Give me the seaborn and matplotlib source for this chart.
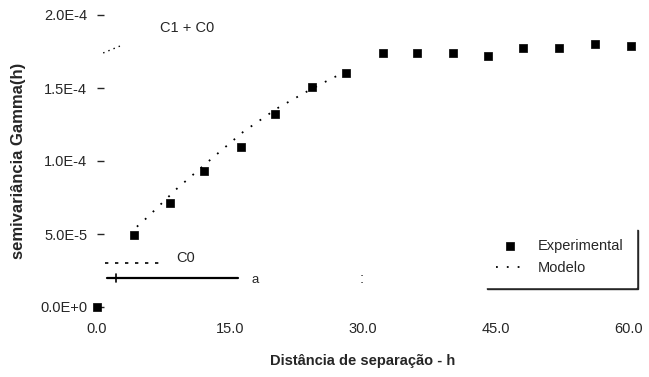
import matplotlib
matplotlib.use("Agg")
import matplotlib.pyplot as plt
import seaborn as sns
import pandas as pd

# Experimental semivariogram
exp_h = [0.0, 4.2, 8.2, 12.1, 16.2, 20.1, 24.2, 28.1, 32.2, 36.1, 40.2, 44.1, 48.1, 52.1, 56.2, 60.2]
exp_gamma = [0.0, 4.93e-5, 7.12e-5, 9.32e-5, 1.096e-4, 1.322e-4, 1.507e-4, 1.603e-4,
             1.740e-4, 1.740e-4, 1.740e-4, 1.719e-4, 1.774e-4, 1.774e-4, 1.801e-4, 1.788e-4]

# Model curve
model_h = [4.5, 5.6, 9.0, 13.0, 16.5, 20.3, 23.5, 26.6, 28.5]
model_gamma = [5.5e-5, 6.1e-5, 8.1e-5, 1.02e-4, 1.20e-4, 1.36e-4, 1.47e-4, 1.57e-4, 1.62e-4]

x_ticks = [0, 15, 30, 45, 60]
x_tick_labels = ["0.0", "15.0", "30.0", "45.0", "60.0"]
y_ticks = [0.0, 5e-5, 1e-4, 1.5e-4, 2e-4]
y_tick_labels = ["0.0E+0", "5.0E-5", "1.0E-4", "1.5E-4", "2.0E-4"]

nugget = 3.01e-5
sill_start = 1.74e-4
sill_end = 1.795e-4
range_line = 1.99e-5

sns.set_style("white")
plt.rcParams['font.family'] = ['Liberation Sans', 'DejaVu Sans']

FS = 10.5

fig = plt.figure(figsize=(6.49, 3.77), dpi=100)
ax = fig.add_axes([97/649, 1-307/377, 532/649, 292/377])

df_exp = pd.DataFrame({"h": exp_h, "gamma": exp_gamma})
df_mod = pd.DataFrame({"h": model_h, "gamma": model_gamma})

sns.scatterplot(data=df_exp, x="h", y="gamma", ax=ax, marker="s", color="black",
                s=30, edgecolor="black", linewidth=0.5, label="Experimental",
                clip_on=False, zorder=3)
sns.lineplot(data=df_mod, x="h", y="gamma", ax=ax, color="black", lw=1.3,
             linestyle=(0, (1, 5)), label="Modelo", zorder=2)

# Annotations: nugget, sill, range
ax.plot([0.9, 7.4], [nugget, nugget], color="black", lw=1.2, linestyle=(0, (2, 4)))
ax.text(8.9, 3.36e-5, "C0", fontsize=FS, va="center", ha="left")
ax.plot([0.7, 2.9], [sill_start, sill_end], color="black", lw=1.0, linestyle=(0, (1, 3)))
ax.text(7.1, 1.911e-4, "C1 + C0", fontsize=FS, va="center", ha="left")
ax.plot([1.1, 15.9], [range_line, range_line], color="black", lw=1.6)
ax.plot([2.1, 2.1], [range_line - 0.25e-5, range_line + 0.25e-5], color="black", lw=1.2)
ax.text(17.4, 1.85e-5, "a", fontsize=FS - 1, va="center", ha="left")
ax.text(29.6, 1.95e-5, ":", fontsize=FS, va="center", ha="left")

ax.set_xlim(0, 60)
ax.set_ylim(0, 2e-4)
ax.set_xticks(x_ticks)
ax.set_xticklabels(x_tick_labels, fontsize=FS)
ax.set_yticks(y_ticks)
ax.set_yticklabels(y_tick_labels, fontsize=FS)
ax.tick_params(axis="x", length=0, pad=11)
ax.tick_params(axis="y", direction="in", length=5, width=1, pad=7, left=True)
for s in ax.spines.values():
    s.set_visible(False)

ax.set_xlabel("Distância de separação - h", fontsize=FS, fontweight="bold", labelpad=13)
ax.set_ylabel("semivariância Gamma(h)", fontsize=12, fontweight="bold", labelpad=10)

handles, labels = ax.get_legend_handles_labels()
order = [labels.index("Experimental"), labels.index("Modelo")]
leg = ax.legend([handles[i] for i in order], [labels[i] for i in order],
                loc="lower right", bbox_to_anchor=(1.026, 0.045), fontsize=FS,
                frameon=True, fancybox=False, borderpad=0.8, handlelength=2.0,
                handletextpad=0.9, labelspacing=0.55,
                shadow={"color": "0.15", "alpha": 1})
leg.get_frame().set_edgecolor("white")
leg.get_frame().set_facecolor("white")
leg.get_frame().set_alpha(1)

fig.savefig("out.png", dpi=100)
